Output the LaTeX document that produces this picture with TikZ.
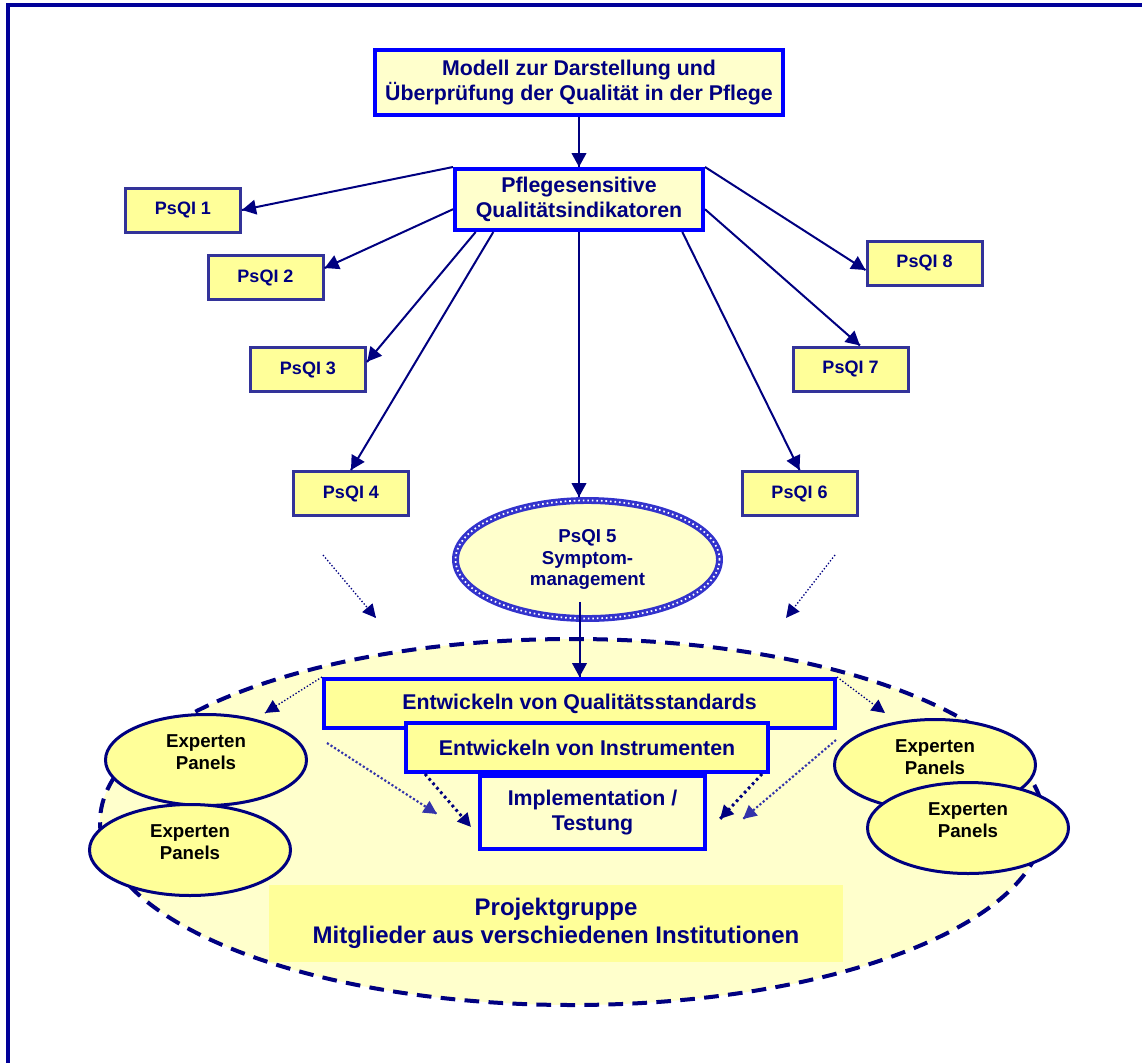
\documentclass[tikz,border=0pt]{standalone}
\usepackage{fontspec}
\setmainfont{Liberation Sans}[Ligatures=NoCommon]
\usetikzlibrary{positioning, arrows.meta, decorations.markings, calc, shapes.geometric}

\definecolor{navytext}{HTML}{000080}
\definecolor{boxblue}{HTML}{0000FF}
\definecolor{psqiframe}{HTML}{333399}
\definecolor{palefill}{HTML}{FFFFCC}
\definecolor{yellowfill}{HTML}{FFFF99}
\definecolor{ringblue}{HTML}{3333CC}
\definecolor{dotblue}{HTML}{3333AA}
\definecolor{framenavy}{HTML}{000099}

\begin{document}
\begin{tikzpicture}[%
		x=0.75pt,
		y=-0.75pt,
		mainbox/.style={
			rectangle,
			line width=3pt,
			draw=boxblue,
			fill=palefill,
			text=navytext,
			align=center,
			inner sep=1pt,
			font=\fontsize{16}{19}\selectfont\bfseries
		},
		psqi/.style={
			rectangle,
			minimum width=86.25pt,
			minimum height=33pt,
			line width=2.25pt,
			draw=psqiframe,
			fill=yellowfill,
			text=navytext,
			font=\fontsize{13.5}{16}\selectfont\bfseries
		},
		symptom/.style={
			ellipse,
			minimum width=198pt,
			minimum height=88.5pt,
			line width=5.2pt,
			draw=ringblue,
			fill=palefill,
			text=navytext,
			align=center,
			inner sep=0pt,
			font=\fontsize{14}{16}\selectfont\bfseries,
			postaction={draw=white, line width=1.3pt, dash pattern=on 1.2pt off 2.2pt}
		},
		stepbox/.style={
			mainbox,
			fill=yellowfill,
			minimum height=36.75pt
		},
		experts/.style={
			ellipse,
			minimum width=150.75pt,
			minimum height=68.25pt,
			line width=2.25pt,
			draw=navytext,
			fill=yellowfill,
			inner sep=0pt
		},
		panel/.style={
			align=center,
			yshift=6pt,
			font=\fontsize{14}{16}\selectfont\bfseries
		},
		projring/.style={
			ellipse,
			minimum width=708pt,
			minimum height=274.5pt,
			line width=3pt,
			draw=navytext,
			fill=palefill,
			dash pattern=on 11pt off 7pt
		},
		groupbox/.style={
			rectangle,
			minimum width=430.5pt,
			minimum height=57.75pt,
			fill=yellowfill,
			text=navytext,
			align=center,
			font=\fontsize{18}{21.5}\selectfont\bfseries
		},
		frameline/.style={
			framenavy,
			line width=3pt
		},
		psqiarrow/.style={
			navytext,
			line width=1.5pt,
			decoration={markings,mark=at position 1 with {\arrow{Triangle[length=10.5pt,width=11pt]}}},
			postaction={decorate}
		},
		hintarrow/.style={
			navytext,
			line width=1pt,
			dash pattern=on 1pt off 1.5pt,
			decoration={markings,mark=at position 1 with {\arrow{Triangle[length=10pt,width=10pt]}}},
			postaction={decorate}
		},
		flowarrow/.style={
			dotblue,
			line width=1.6pt,
			dash pattern=on 1.6pt off 1.6pt,
			decoration={markings,mark=at position 1 with {\arrow{Triangle[length=10pt,width=10pt]}}},
			postaction={decorate}
		},
		darkarrow/.style={
			navytext,
			line width=2.2pt,
			dash pattern=on 2pt off 2.4pt,
			decoration={markings,mark=at position 1 with {\arrow{Triangle[length=10pt,width=10pt]}}},
			postaction={decorate}
		}]

		\useasboundingbox (0,0) rectangle (1142,1063);
		\draw[frameline] (8,1063) -- (8,5.5) -- (1142,5.5);

		% PROJECT GROUP

		\node (ring) [projring] at (572,822) {};
		\node (group) [groupbox] at (556,923.5) {Projektgruppe\\Mitglieder aus verschiedenen Institutionen};

		% TOP

		\node (title) [mainbox, minimum width=306pt, minimum height=48.75pt] at (579,82.5) {Modell zur Darstellung und\\Überprüfung der Qualität in der Pflege};
		\node (pflege) [mainbox, minimum width=186pt, minimum height=45.75pt] at (579,199.5) {Pflegesensitive\\Qualitätsindikatoren};

		% PSQI BOXES

		\node (psqi1) [psqi] at (183,210) {PsQI 1};
		\node (psqi2) [psqi] at (265.5,277.5) {PsQI 2};
		\node (psqi3) [psqi] at (308,369.5) {PsQI 3};
		\node (psqi4) [psqi] at (351,493.5) {PsQI 4};
		\node (psqi5) [symptom] at (587.5,559.5) {PsQI 5\\Symptom-\\management};
		\node (psqi6) [psqi] at (799.5,493.5) {PsQI 6};
		\node (psqi7) [psqi] at (850.5,369) {PsQI 7};
		\node (psqi8) [psqi] at (924.5,263) {PsQI 8};

		% STEPS

		\node (qstd) [stepbox, minimum width=383.25pt] at (579.5,703.5) {Entwickeln von Qualitätsstandards};
		\node (instr) [stepbox, minimum width=271.5pt] at (587,747.5) {Entwickeln von Instrumenten};
		\node (impl) [mainbox, fill=none, minimum width=168.75pt, minimum height=54.75pt] at (592.5,812.5) {Implementation /\\Testung};

		% EXPERT PANELS

		\node (expL1) [experts, label={[panel]center:{Experten\\Panels}}] at (206,760) {};
		\node (expL2) [experts, label={[panel]center:{Experten\\Panels}}] at (190,850) {};
		\node (expR1) [experts, label={[panel]center:{Experten\\Panels}}] at (935,765) {};
		\node (expR2) [experts, label={[panel]center:{Experten\\Panels}}] at (968,828) {};

		% PSQI LINES

		\draw[psqiarrow] (title.south) -- (pflege.north);
		\draw[psqiarrow] (pflege.north west) -- (psqi1.east);
		\draw[psqiarrow] ($(pflege.north west)!.65!(pflege.south west)$) -- ($(psqi2.north east)!.3!(psqi2.south east)$);
		\draw[psqiarrow] ($(pflege.south west)!.09!(pflege.south east)$) -- ($(psqi3.north east)!.34!(psqi3.south east)$);
		\draw[psqiarrow] ($(pflege.south west)!.16!(pflege.south east)$) -- (psqi4.north);
		\draw[psqiarrow] (pflege.south) -- (pflege.south |- psqi5.north);
		\draw[psqiarrow] ($(pflege.south west)!.91!(pflege.south east)$) -- (psqi6.north);
		\draw[psqiarrow] ($(pflege.north east)!.65!(pflege.south east)$) -- ($(psqi7.north west)!.58!(psqi7.north east)$);
		\draw[psqiarrow] (pflege.north east) -- ($(psqi8.north west)!.65!(psqi8.south west)$);
		\draw[psqiarrow] ($(qstd.north |- psqi5.south)+(0,-20)$) -- (qstd.north);

		% DOTTED LINES

		\coordinate (hint4a) at ($(psqi4.south)+(-28,38)$);
		\coordinate (hint4b) at ($(psqi4.south)+(25,101)$);
		\coordinate (hint6a) at ($(psqi6.south)+(35.5,38)$);
		\coordinate (hint6b) at ($(psqi6.south)+(-13.5,101)$);
		\coordinate (toL1) at ($(expL1.north)+(59,0)$);
		\coordinate (toR1) at ($(expR1.north)+(-50,-5)$);
		\coordinate (flowLa) at ($(qstd.south west)+(5,13)$);
		\coordinate (flowLb) at ($(impl.west)+(-41,1.5)$);
		\coordinate (flowRa) at ($(qstd.south east)+(-1,10)$);
		\coordinate (flowRb) at ($(impl.east)+(36,6.5)$);
		\coordinate (darkLa) at ($(instr.south west)+(21,0)$);
		\coordinate (darkLb) at ($(impl.west)+(-7,14.5)$);
		\coordinate (darkRa) at ($(instr.south east)+(-8,0)$);
		\coordinate (darkRb) at ($(impl.east)+(13,6.5)$);

		\draw[hintarrow] (hint4a) -- (hint4b);
		\draw[hintarrow] (hint6a) -- (hint6b);
		\draw[hintarrow] (qstd.north west) -- (toL1);
		\draw[hintarrow] (qstd.north east) -- (toR1);
		\draw[flowarrow] (flowLa) -- (flowLb);
		\draw[flowarrow] (flowRa) -- (flowRb);
		\draw[darkarrow] (darkLa) -- (darkLb);
		\draw[darkarrow] (darkRa) -- (darkRb);
\end{tikzpicture}
\end{document}
